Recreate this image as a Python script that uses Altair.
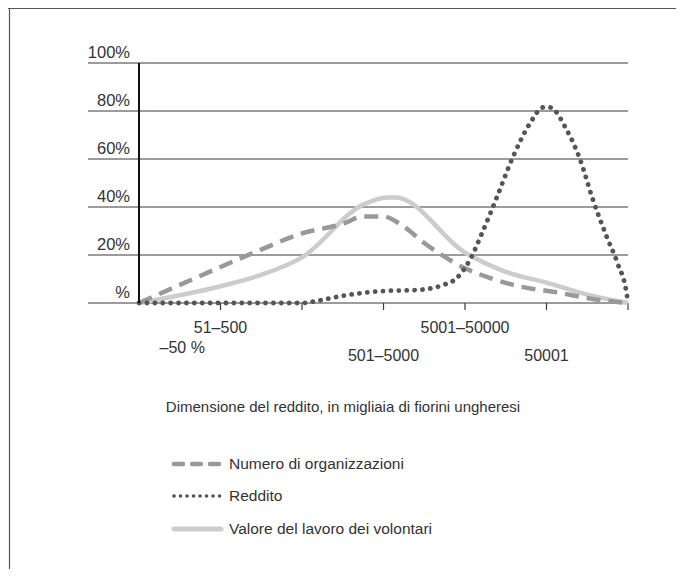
import altair as alt
import pandas as pd

# ---- data ----
series_names = ["Numero di organizzazioni", "Reddito", "Valore del lavoro dei volontari"]

# x is measured in category steps (0 = axis origin, 6 = right end)
x_numero = [0, 1, 1.48, 2, 2.5, 2.75, 3, 3.2, 3.5, 4, 4.3, 4.7, 5.1, 5.6, 6]
y_numero = [0, 15, 22, 29, 33, 36, 36, 33, 25, 14.5, 10.5, 6.7, 4.6, 1.5, 0]

x_reddito = [0, 1, 2, 2.1, 2.5, 3, 3.4, 3.73, 3.9, 4.06, 4.22, 4.39, 4.59, 4.8, 4.96,
             5.04, 5.25, 5.41, 5.57, 5.74, 5.87, 5.99, 6]
y_reddito = [0, 0, 0, 0.4, 3, 5, 5.4, 7.5, 10.4, 18, 30, 44, 61, 75, 81.5,
             81.5, 72, 60, 43, 27.5, 16.7, 2.5, 0]

x_valore = [0, 1, 1.48, 2, 2.75, 3.05, 3.15, 4.0, 4.5, 5.0, 5.5, 6]
y_valore = [0, 7, 11.5, 19, 41, 44, 44, 21, 13, 8.5, 3.5, 0]

y_ticks = [0, 20, 40, 60, 80, 100]
y_tick_labels = ["%", "20%", "40%", "60%", "80%", "100%"]

x_tick_positions = [1, 2, 3, 4, 5, 6]
x_labels = ["–50 %", "51–500", "501–5000", "5001–50000", "50001"]
x_label_positions = [0.53, 1, 3, 4, 5]
x_label_rows = [285, 265, 293, 265, 293]

axis_title = "Dimensione del reddito, in migliaia di fiorini ungheresi"

# ---- layout ----
W, H = 540, 240
FONT = "Liberation Sans, Arial, sans-serif"
TXT = "#333333"

xs = alt.Scale(domain=[-0.626, 6], nice=False, zero=False)
ys = alt.Scale(domain=[0, 100], nice=False)

def line_df(xv, yv):
    return pd.DataFrame({"x": xv, "y": yv})

grid_df = pd.DataFrame({"v": y_ticks, "lab": y_tick_labels})
tick_df = pd.DataFrame({"t": x_tick_positions})
xlab_df = pd.DataFrame({"lab": x_labels, "pos": x_label_positions, "row": x_label_rows})

grid = alt.Chart(grid_df).mark_rule(color="#3a3a3a", strokeWidth=1.2).encode(
    y=alt.Y("v:Q", scale=ys, axis=None), x=alt.value(0), x2=alt.value(W)
)
ylabels = alt.Chart(grid_df).mark_text(
    align="right", baseline="bottom", dy=-2, font=FONT, fontSize=16.5, color=TXT
).encode(y=alt.Y("v:Q", scale=ys, axis=None), x=alt.value(42), text="lab:N")

yaxis = alt.Chart(pd.DataFrame({"a": [0], "b": [0], "c": [100]})).mark_rule(
    color="#111111", strokeWidth=2
).encode(
    x=alt.X("a:Q", scale=xs, axis=None),
    y=alt.Y("b:Q", scale=ys, axis=None),
    y2="c:Q",
)

xticks = alt.Chart(tick_df).mark_rule(color="#3a3a3a", strokeWidth=1.2).encode(
    x=alt.X("t:Q", scale=xs, axis=None), y=alt.value(H), y2=alt.value(H + 7)
)
xlabels = alt.Chart(xlab_df).mark_text(
    align="center", baseline="middle", font=FONT, fontSize=16, color=TXT
).encode(x=alt.X("pos:Q", scale=xs, axis=None), y=alt.Y("row:Q", scale=None), text="lab:N")

def series_line(xv, yv, **style):
    return alt.Chart(line_df(xv, yv)).mark_line(interpolate="monotone", **style).encode(
        x=alt.X("x:Q", scale=xs, axis=None), y=alt.Y("y:Q", scale=ys, axis=None)
    )

style_numero = dict(color="#999999", strokeWidth=4.5, strokeDash=[14, 8])
style_reddito = dict(color="#555555", strokeWidth=4.8, strokeDash=[0.1, 7.8], strokeCap="round")
style_valore = dict(color="#cccccc", strokeWidth=4.5)

l_valore = series_line(x_valore, y_valore, **style_valore)
l_numero = series_line(x_numero, y_numero, **style_numero)
l_reddito = series_line(x_reddito, y_reddito, **style_reddito)

title = alt.Chart(pd.DataFrame({"t": [axis_title]})).mark_text(
    align="center", baseline="middle", font=FONT, fontSize=15, color=TXT
).encode(x=alt.value(255), y=alt.value(344), text="t:N")

legend_rows = [401, 433, 466]
legend_styles = [
    dict(color="#999999", strokeWidth=4.5, strokeDash=[9, 9], strokeCap="round"),
    dict(color="#555555", strokeWidth=3.6, strokeDash=[0.1, 6.4], strokeCap="round"),
    dict(color="#cccccc", strokeWidth=5, strokeCap="round"),
]
legend_layers = []
for name, row, st in zip(series_names, legend_rows, legend_styles):
    d = pd.DataFrame({"name": [name]})
    legend_layers.append(
        alt.Chart(d).mark_rule(**st).encode(x=alt.value(86), x2=alt.value(133), y=alt.value(row))
    )
    legend_layers.append(
        alt.Chart(d).mark_text(
            align="left", baseline="middle", font=FONT, fontSize=15.5, color=TXT
        ).encode(x=alt.value(141), y=alt.value(row), text="name:N")
    )

frame_top = alt.Chart(pd.DataFrame({"k": [0]})).mark_rule(color="#555555", strokeWidth=1.2).encode(
    x=alt.value(-80), x2=alt.value(W + 60), y=alt.value(-54.5)
)
frame_left = alt.Chart(pd.DataFrame({"k": [0]})).mark_rule(color="#555555", strokeWidth=1.2).encode(
    x=alt.value(-78.5), y=alt.value(-55), y2=alt.value(H + 266)
)

chart = alt.layer(
    frame_top, frame_left, grid, ylabels, xticks, xlabels,
    l_valore, l_numero, l_reddito, yaxis, title, *legend_layers
).properties(
    width=W, height=H,
    padding={"left": 80, "top": 55, "right": 48, "bottom": 266},
    autosize="none",
).configure_view(stroke=None)

chart.save("out.html", embed_options={"renderer": "svg", "actions": False})
